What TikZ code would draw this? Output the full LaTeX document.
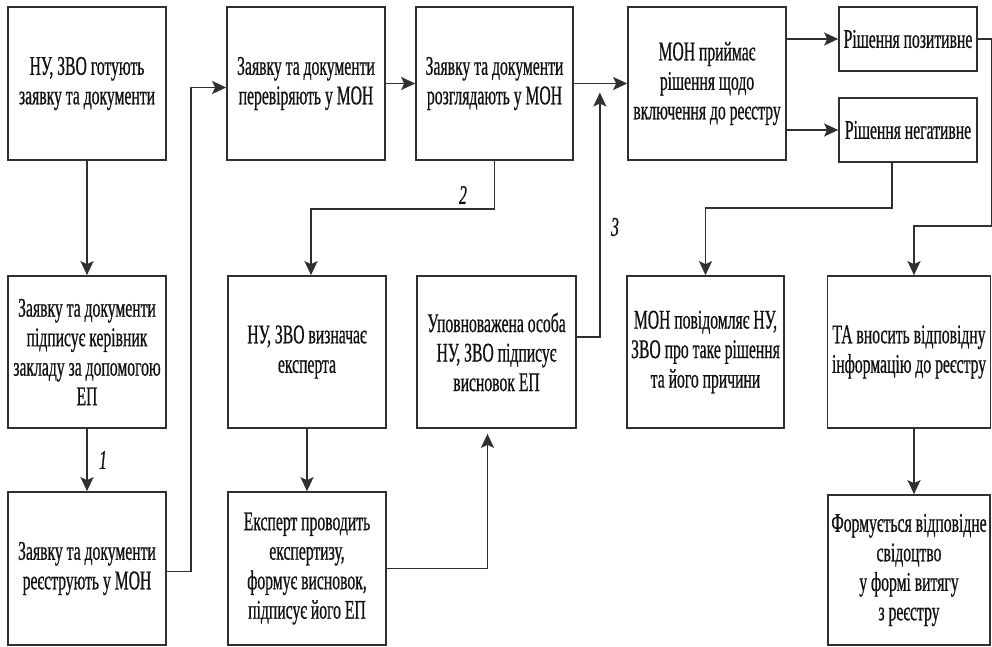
\documentclass[tikz,border=0pt]{standalone}
\usepackage{fontspec}
\setmainfont{Liberation Serif}[FakeStretch=0.58,FakeBold=0.6]
\usetikzlibrary{arrows.meta,calc}
\definecolor{lc}{HTML}{303030}
\definecolor{tc}{HTML}{111111}
\tikzset{
  box/.style={draw=lc, line width=1.7pt, align=center, text=tc, inner sep=2pt,
    font=\fontsize{27}{29.5}\selectfont},
  arr/.style={draw=lc, line width=1.6pt, -{Stealth[length=14pt,width=13pt,inset=3pt]}},
  lbl/.style={text=tc, font=\fontsize{27}{29.5}\selectfont\itshape}
}
\begin{document}
\begin{tikzpicture}[x=1pt,y=-1pt]
\useasboundingbox[fill=white] (0,0) rectangle (992,647);
% row 1
\node[box, minimum width=158pt, minimum height=153pt] (A) at (87,83.5) {НУ, ЗВО готують\\заявку та документи};
\node[box, minimum width=158pt, minimum height=153pt] (B) at (306,83.5) {Заявку та документи\\перевіряють у МОН};
\node[box, minimum width=157pt, minimum height=153pt] (C) at (494.5,83.5) {Заявку та документи\\розглядають у МОН};
\node[box, minimum width=158pt, minimum height=153pt] (D) at (707,83.5) {МОН приймає\\рішення щодо\\включення до реєстру};
\node[box, minimum width=138pt, minimum height=64pt] (E) at (908,39) {Рішення позитивне};
\node[box, minimum width=138pt, minimum height=64pt] (F) at (908,130) {Рішення негативне};
% row 2
\node[box, minimum width=158pt, minimum height=152pt] (G) at (87,352) {Заявку та документи\\підписує керівник\\закладу за допомогою\\ЕП};
\node[box, minimum width=158pt, minimum height=152pt] (H) at (307,352) {НУ, ЗВО визначає\\експерта};
\node[box, minimum width=159pt, minimum height=152pt] (I) at (496.5,352) {Уповноважена особа\\НУ, ЗВО підписує\\висновок ЕП};
\node[box, minimum width=157pt, minimum height=152pt] (J) at (705.5,352) {МОН повідомляє НУ,\\ЗВО про таке рішення\\та його причини};
\node[box, minimum width=163pt, minimum height=152pt] (K) at (909,352) {ТА вносить відповідну\\інформацію до реєстру};
% row 3
\node[box, minimum width=158pt, minimum height=153pt] (L) at (87,568.5) {Заявку та документи\\реєструють у МОН};
\node[box, minimum width=158pt, minimum height=153pt] (M) at (307,568.5) {Експерт проводить\\експертизу,\\формує висновок,\\підписує його ЕП};
\node[box, minimum width=162pt, minimum height=150pt] (N) at (909,570) {Формується відповідне\\свідоцтво\\у формі витягу\\з реєстру};
% connectors
\draw[arr] (A) -- (G);
\draw[arr] (G) -- (L);
\node[lbl] (n1) at (103,460) {1};
\draw[arr] ($(L.east)+(0,3)$) -- ++(24,0) |- ($(B.west)+(0,4)$);
\draw[arr] (B) -- (C);
\draw[arr] (C) -- (D);
\draw[arr] (C.south) -- ++(0,48) -| ($(H.north)+(4,0)$);
\node[lbl] (n2) at (463,195) {2};
\draw[arr] (H) -- (M);
\draw[arr] (M.east) -| ($(I.south)+(-9,5)$);
\draw[arr] ($(I.east)+(0,-15)$) -- ++(23,0) -- ($(C.east)+(26,9)$);
\node[lbl] (n3) at (615,227) {3};
\draw[arr] (D.east |- E.west) -- (E.west);
\draw[arr] (D.east |- F.west) -- (F.west);
\draw[arr] ($(F.south)+(-16,0)$) -- ++(0,45) -| (J.north);
\draw[arr] (E.east) -- ++(14,0) |- ($(K.north)+(5,-49)$) -- ($(K.north)+(5,0)$);
\draw[arr] ($(K.south)+(5,0)$) -- ($(N.north)+(5,0)$);
\end{tikzpicture}
\end{document}
